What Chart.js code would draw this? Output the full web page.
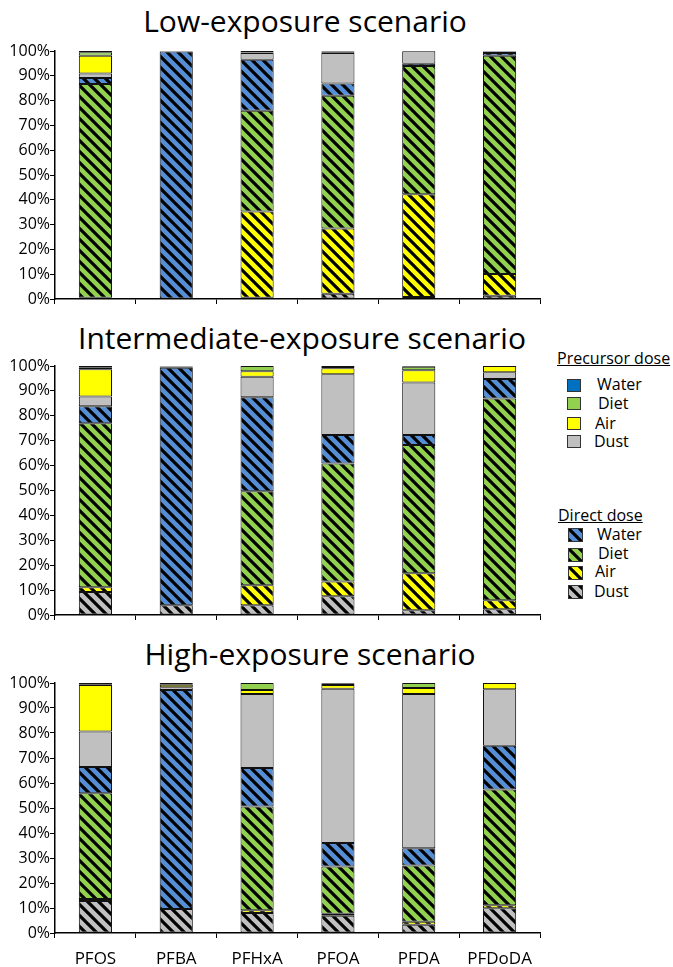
<!DOCTYPE html>
<html>
<head>
<meta charset="utf-8">
<script src="https://cdn.jsdelivr.net/npm/chart.js@4.4.1/dist/chart.umd.min.js"></script>
<style>
  body { margin: 0; background: #fff; font-family: "Open Sans", sans-serif; color: #000; }
  #wrap { position: relative; width: 673px; height: 967px; overflow: hidden; }
  .title { position: absolute; font-size: 30px; white-space: nowrap; transform: translateX(-50%); line-height: 30px; }
  canvas.panel { position: absolute; left: 0; }
  .lg { position: absolute; font-size: 16px; line-height: 18px; white-space: nowrap; }
  .hd { text-decoration: underline; }
  .sw { position: absolute; box-sizing: border-box; border: 1px solid #333; }
</style>
</head>
<body>
<div id="wrap">
  <div class="title" style="left:305px;top:6px">Low-exposure scenario</div>
  <div class="title" style="left:302px;top:323px">Intermediate-exposure scenario</div>
  <div class="title" style="left:310px;top:639px">High-exposure scenario</div>

  <canvas id="low" class="panel" width="545" height="274" style="top:39px"></canvas>
  <canvas id="mid" class="panel" width="545" height="275" style="top:354px"></canvas>
  <canvas id="high" class="panel" width="545" height="296" style="top:671px"></canvas>

  <div class="lg hd" style="left:557px;top:349px">Precursor dose</div>
  <div class="sw" style="left:567px;top:379px;width:14px;height:13px;background:#0070C0"></div>
  <div class="lg" style="left:597px;top:375px">Water</div>
  <div class="sw" style="left:567px;top:397px;width:14px;height:13px;background:#92D050"></div>
  <div class="lg" style="left:598px;top:394px">Diet</div>
  <div class="sw" style="left:567px;top:417px;width:14px;height:13px;background:#FFFF00"></div>
  <div class="lg" style="left:595px;top:414px">Air</div>
  <div class="sw" style="left:567px;top:435px;width:14px;height:13px;background:#C0C0C0"></div>
  <div class="lg" style="left:594px;top:432px">Dust</div>

  <div class="lg hd" style="left:558px;top:506px">Direct dose</div>
  <canvas id="swWater" class="sw" width="13" height="12" style="left:568px;top:528px"></canvas>
  <div class="lg" style="left:597px;top:525px">Water</div>
  <canvas id="swDiet" class="sw" width="13" height="12" style="left:568px;top:548px"></canvas>
  <div class="lg" style="left:598px;top:544px">Diet</div>
  <canvas id="swAir" class="sw" width="13" height="12" style="left:568px;top:566px"></canvas>
  <div class="lg" style="left:595px;top:562px">Air</div>
  <canvas id="swDust" class="sw" width="13" height="12" style="left:568px;top:585px"></canvas>
  <div class="lg" style="left:594px;top:582px">Dust</div>
</div>

<script>
// categories and ticks
const compounds = ['PFOS', 'PFBA', 'PFHxA', 'PFOA', 'PFDA', 'PFDoDA'];
const yTicks = [0, 10, 20, 30, 40, 50, 60, 70, 80, 90, 100];

// Low-exposure scenario (% of total intake)
const lowDirectDust = [0.3, 0, 0.5, 2.1, 0.8, 1.3];
const lowDirectAir = [0.2, 0, 34.8, 26.3, 41.4, 8.8];
const lowDirectDiet = [86.2, 0, 40.6, 53.6, 51.8, 88.0];
const lowDirectWater = [2.4, 99.8, 20.6, 4.9, 0.9, 1.1];
const lowPrecDust = [1.8, 0.1, 2.7, 12.3, 5.0, 0.4];
const lowPrecAir = [7.2, 0, 0.2, 0.3, 0.05, 0.2];
const lowPrecDiet = [1.4, 0.1, 0.6, 0.3, 0.05, 0.1];
const lowPrecWater = [0.5, 0, 0, 0.2, 0, 0.1];

// Intermediate-exposure scenario
const midDirectDust = [9.2, 3.9, 3.9, 7.5, 1.9, 2.3];
const midDirectAir = [1.9, 0, 8.0, 6.0, 14.9, 3.6];
const midDirectDiet = [65.9, 0, 37.8, 47.3, 51.5, 81.0];
const midDirectWater = [6.8, 95.4, 37.7, 11.5, 4.0, 7.9];
const midPrecDust = [4.0, 0.3, 8.3, 24.4, 21.1, 2.7];
const midPrecAir = [10.9, 0.2, 2.2, 2.4, 4.9, 2.5];
const midPrecDiet = [0.8, 0.1, 2.1, 0.5, 1.4, 0];
const midPrecWater = [0.5, 0.1, 0, 0.4, 0.3, 0];

// High-exposure scenario
const highDirectDust = [12.8, 9.6, 8.0, 6.9, 3.3, 9.9];
const highDirectAir = [0.8, 0, 1.1, 0.8, 1.2, 1.2];
const highDirectDiet = [42.3, 0, 41.5, 18.9, 22.5, 46.3];
const highDirectWater = [10.5, 87.6, 15.4, 9.4, 6.9, 17.5];
const highPrecDust = [14.2, 1.1, 29.6, 61.7, 61.7, 22.6];
const highPrecAir = [18.6, 1.0, 1.6, 1.5, 2.4, 2.5];
const highPrecDiet = [0.3, 0.7, 2.8, 0.5, 2.0, 0];
const highPrecWater = [0.5, 0, 0, 0.3, 0, 0];

const colors = {
  directWater: '#558ED5', precWater: '#0070C0',
  diet: '#92D050', air: '#FFFF00', dust: '#C0C0C0'
};

// diagonal black hatching on a coloured ground
function hatch(color) {
  const c = document.createElement('canvas');
  c.width = 11; c.height = 11;
  const g = c.getContext('2d');
  g.fillStyle = color;
  g.fillRect(0, 0, 11, 11);
  g.strokeStyle = '#000';
  g.lineWidth = 3.2;
  g.beginPath();
  for (const o of [-11, 0, 11]) {
    g.moveTo(o - 2, -2);
    g.lineTo(o + 13, 13);
  }
  g.stroke();
  return g.createPattern(c, 'repeat');
}

function swatch(id, color) {
  const g = document.getElementById(id).getContext('2d');
  g.fillStyle = hatch(color);
  g.fillRect(0, 0, 13, 12);
}
swatch('swWater', colors.directWater);
swatch('swDiet', colors.diet);
swatch('swAir', colors.air);
swatch('swDust', colors.dust);

function seg(label, data, fill) {
  return {
    label: label,
    data: data,
    backgroundColor: fill,
    borderColor: '#111',
    borderWidth: 1,
    borderSkipped: false,
    barPercentage: 0.41,
    categoryPercentage: 1.0,
  };
}

function makePanel(id, s, showLabels, xHeight) {
  const ctx = document.getElementById(id).getContext('2d');
  new Chart(ctx, {
    type: 'bar',
    data: {
      labels: compounds,
      datasets: [
        seg('Direct Dust', s[0], hatch(colors.dust)),
        seg('Direct Air', s[1], hatch(colors.air)),
        seg('Direct Diet', s[2], hatch(colors.diet)),
        seg('Direct Water', s[3], hatch(colors.directWater)),
        seg('Precursor Dust', s[4], colors.dust),
        seg('Precursor Air', s[5], colors.air),
        seg('Precursor Diet', s[6], colors.diet),
        seg('Precursor Water', s[7], colors.precWater),
      ]
    },
    options: {
      responsive: false,
      animation: false,
      layout: { padding: { top: 12, right: 5, bottom: 0, left: 0 } },
      plugins: { legend: { display: false }, tooltip: { enabled: false } },
      scales: {
        x: {
          stacked: true,
          grid: { drawOnChartArea: false, drawTicks: true, tickLength: 5, color: '#000', offset: true },
          border: { display: true, color: '#000', width: 1.5 },
          ticks: {
            display: showLabels,
            color: '#000',
            padding: 11,
            font: { family: 'Open Sans', size: 17 }
          },
          afterFit: function(scale) { scale.height = xHeight; }
        },
        y: {
          stacked: true,
          min: 0,
          max: 100,
          afterBuildTicks: function(scale) {
            scale.ticks = yTicks.map(v => ({ value: v }));
          },
          grid: { drawOnChartArea: false, drawTicks: true, tickLength: 5, color: '#000' },
          border: { display: true, color: '#000', width: 1.5 },
          ticks: {
            color: '#000',
            padding: 0,
            font: { family: 'Open Sans', size: 16 },
            callback: function(value) { return value + '%'; }
          },
          afterFit: function(scale) { scale.width = 55; }
        }
      }
    }
  });
}

makePanel('low', [lowDirectDust, lowDirectAir, lowDirectDiet, lowDirectWater,
  lowPrecDust, lowPrecAir, lowPrecDiet, lowPrecWater], false, 14);
makePanel('mid', [midDirectDust, midDirectAir, midDirectDiet, midDirectWater,
  midPrecDust, midPrecAir, midPrecDiet, midPrecWater], false, 14);
makePanel('high', [highDirectDust, highDirectAir, highDirectDiet, highDirectWater,
  highPrecDust, highPrecAir, highPrecDiet, highPrecWater], true, 34);
</script>
</body>
</html>
